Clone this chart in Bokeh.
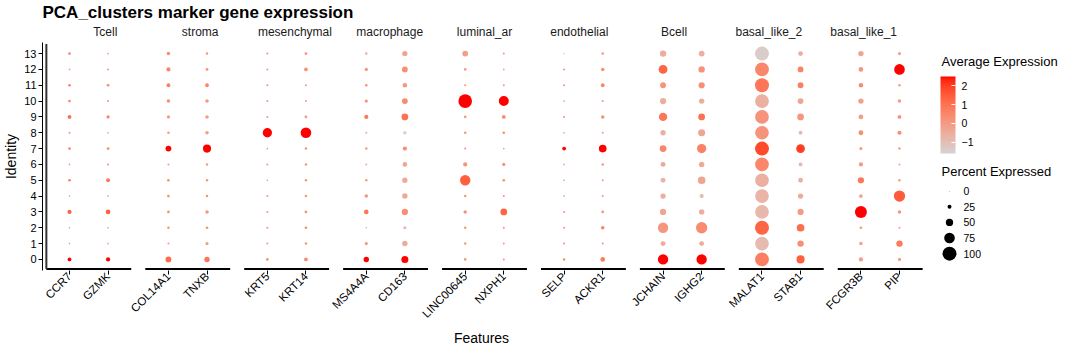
import math
from bokeh.plotting import figure
from bokeh.models import (FactorRange, Range1d, CategoricalAxis, ColumnDataSource,
                          LinearColorMapper, ColorBar, FixedTicker)
from bokeh.layouts import row, column
from bokeh.embed import file_html
from bokeh.resources import INLINE
from bokeh.core.properties import value

# ---------------- data ----------------
title_text = "PCA_clusters marker gene expression"
x_title = "Features"
y_title = "Identity"
clusters = [str(i) for i in range(14)]  # 0 .. 13 (bottom to top)
groups = ["Tcell", "stroma", "mesenchymal", "macrophage", "luminal_ar",
          "endothelial", "Bcell", "basal_like_2", "basal_like_1"]
group_genes = [["CCR7", "GZMK"], ["COL14A1", "TNXB"], ["KRT5", "KRT14"],
               ["MS4A4A", "CD163"], ["LINC00645", "NXPH1"], ["SELP", "ACKR1"],
               ["JCHAIN", "IGHG2"], ["MALAT1", "STAB1"], ["FCGR3B", "PIP"]]

# percent expressed, clusters 0..13
ccr7_pct = [24, 8, 8, 27, 8, 16, 8, 16, 11, 24, 16, 16, 8, 16]
gzmk_pct = [27, 8, 8, 30, 8, 24, 11, 16, 8, 19, 11, 16, 10, 8]
col14a1_pct = [39, 11, 14, 16, 16, 16, 11, 39, 14, 19, 22, 24, 27, 22]
tnxb_pct = [36, 19, 16, 22, 14, 14, 14, 56, 22, 22, 22, 24, 16, 14]
krt5_pct = [16, 11, 11, 11, 11, 8, 11, 8, 65, 11, 11, 11, 11, 11]
krt14_pct = [24, 14, 16, 16, 14, 14, 14, 14, 75, 16, 11, 11, 24, 16]
ms4a4a_pct = [36, 19, 8, 30, 22, 16, 11, 14, 11, 27, 19, 16, 19, 14]
cd163_pct = [48, 36, 19, 42, 36, 35, 30, 27, 22, 46, 39, 30, 39, 35]
linc00645_pct = [16, 14, 14, 22, 14, 73, 27, 11, 16, 16, 97, 11, 16, 39]
nxph1_pct = [11, 11, 11, 46, 11, 16, 19, 8, 16, 24, 70, 11, 8, 11]
selp_pct = [14, 11, 11, 11, 8, 8, 8, 24, 8, 11, 8, 11, 11, 5]
ackr1_pct = [30, 11, 22, 16, 11, 11, 14, 53, 11, 22, 11, 24, 22, 14]
jchain_pct = [73, 32, 73, 42, 35, 32, 32, 46, 35, 58, 42, 39, 61, 43]
ighg2_pct = [73, 32, 80, 36, 27, 53, 36, 65, 48, 46, 36, 42, 43, 39]
malat1_pct = [99, 98, 100, 98, 98, 98, 98, 100, 98, 98, 99, 100, 99, 100]
stab1_pct = [56, 43, 53, 42, 36, 32, 24, 61, 24, 46, 39, 39, 39, 32]
fcgr3b_pct = [27, 22, 16, 85, 24, 42, 27, 19, 32, 32, 36, 30, 30, 36]
pip_pct = [19, 43, 11, 22, 80, 14, 11, 14, 27, 24, 22, 14, 75, 19]

# average expression (scaled), clusters 0..13
ccr7_avg = [2.5, 0.1, 0.1, 1.3, 0.2, 0.6, 0.1, 0.5, 0.2, 1.1, 0.4, 0.5, 0.1, 0.4]
gzmk_avg = [2.5, 0.1, 0.1, 1.4, 0.1, 0.9, 0.2, 0.4, 0.1, 0.6, 0.2, 0.4, 0.2, 0.1]
col14a1_avg = [1.2, 0.0, 0.2, 0.2, 0.2, 0.2, 0.0, 2.5, 0.0, 0.1, 0.3, 0.7, 0.5, 0.3]
tnxb_avg = [0.9, 0.0, 0.2, 0.1, 0.2, 0.1, 0.0, 2.5, -0.1, 0.0, 0.1, 0.6, 0.3, 0.1]
krt5_avg = [0.3, 0.1, 0.2, 0.1, 0.1, 0.1, 0.1, 0.1, 2.5, 0.1, 0.1, 0.1, 0.1, 0.2]
krt14_avg = [0.4, 0.1, 0.3, 0.2, 0.1, 0.1, 0.1, 0.2, 2.5, 0.1, 0.0, 0.0, 0.2, 0.2]
ms4a4a_avg = [2.5, 0.1, -0.3, 0.9, 0.2, -0.1, -0.4, 0.1, -0.5, 0.8, 0.3, 0.2, 0.3, -0.5]
cd163_avg = [2.5, -0.5, -0.8, 0.3, -0.4, -0.4, -0.2, 0.3, -1.6, 1.0, 0.4, 0.1, 0.3, -0.2]
linc00645_avg = [0.1, 0.0, 0.1, 0.1, 0.1, 1.4, 0.2, 0.1, 0.0, 0.0, 2.5, 0.1, 0.0, -0.1]
nxph1_avg = [0.1, 0.0, 0.1, 1.3, 0.1, 0.2, 0.3, 0.0, 0.2, 0.4, 2.5, 0.0, 0.0, 0.0]
selp_avg = [0.4, 0.2, 0.2, 0.2, 0.0, 0.1, 0.0, 2.5, 0.0, 0.3, 0.0, 0.3, 0.2, -0.3]
ackr1_avg = [0.8, 0.1, 0.6, 0.2, 0.1, 0.1, 0.1, 2.5, 0.0, 0.3, 0.1, 0.5, 0.3, 0.1]
jchain_avg = [2.5, -0.4, 0.1, -0.3, -0.5, -0.7, -0.4, 0.5, -0.6, 0.9, -0.5, 0.2, 1.3, -0.5]
ighg2_avg = [2.5, -0.5, 0.4, -0.5, -0.9, -0.3, -0.4, 0.6, -0.3, 1.0, -0.5, 0.3, 0.2, -0.6]
malat1_avg = [0.7, -0.9, 1.3, -0.8, -0.7, -0.6, 0.5, 1.8, 0.2, 0.2, -0.6, 0.9, 0.5, -1.4]
stab1_avg = [1.4, 0.3, 1.1, 0.0, -0.5, -0.6, -0.8, 2.0, -0.8, 0.1, -0.3, 0.7, 0.6, -0.6]
fcgr3b_avg = [-0.1, -0.2, 0.1, 2.5, -0.3, 0.9, 0.0, 0.0, 0.3, -0.1, -0.2, 0.4, 0.2, -0.3]
pip_avg = [0.0, 0.8, -0.2, 0.1, 1.5, -0.1, -0.2, 0.0, 0.3, 0.2, 0.0, -0.1, 2.5, -0.2]

pct_by_gene = {
    "CCR7": ccr7_pct, "GZMK": gzmk_pct, "COL14A1": col14a1_pct, "TNXB": tnxb_pct,
    "KRT5": krt5_pct, "KRT14": krt14_pct, "MS4A4A": ms4a4a_pct, "CD163": cd163_pct,
    "LINC00645": linc00645_pct, "NXPH1": nxph1_pct, "SELP": selp_pct, "ACKR1": ackr1_pct,
    "JCHAIN": jchain_pct, "IGHG2": ighg2_pct, "MALAT1": malat1_pct, "STAB1": stab1_pct,
    "FCGR3B": fcgr3b_pct, "PIP": pip_pct}
avg_by_gene = {
    "CCR7": ccr7_avg, "GZMK": gzmk_avg, "COL14A1": col14a1_avg, "TNXB": tnxb_avg,
    "KRT5": krt5_avg, "KRT14": krt14_avg, "MS4A4A": ms4a4a_avg, "CD163": cd163_avg,
    "LINC00645": linc00645_avg, "NXPH1": nxph1_avg, "SELP": selp_avg, "ACKR1": ackr1_avg,
    "JCHAIN": jchain_avg, "IGHG2": ighg2_avg, "MALAT1": malat1_avg, "STAB1": stab1_avg,
    "FCGR3B": fcgr3b_avg, "PIP": pip_avg}

legend_pct = [0, 25, 50, 75, 100]
colorbar_ticks = [-1, 0, 1, 2]

FONT = "Liberation Sans"

# ---------------- colour scale (Lab interpolation like ggplot2) ----------------
def _lin(c):
    c = c / 255.0
    return c / 12.92 if c <= 0.04045 else ((c + 0.055) / 1.055) ** 2.4

def _delin(c):
    c = 12.92 * c if c <= 0.0031308 else 1.055 * max(c, 0) ** (1 / 2.4) - 0.055
    return max(0, min(255, round(c * 255)))

WHITE = (0.95047, 1.0, 1.08883)

def hex2lab(h):
    r, g, b = [_lin(int(h[i:i + 2], 16)) for i in (1, 3, 5)]
    x = 0.4124 * r + 0.3576 * g + 0.1805 * b
    y = 0.2126 * r + 0.7152 * g + 0.0722 * b
    z = 0.0193 * r + 0.1192 * g + 0.9505 * b
    def f(t):
        return t ** (1 / 3) if t > 216 / 24389 else (24389 / 27 * t + 16) / 116
    fx, fy, fz = f(x / WHITE[0]), f(y / WHITE[1]), f(z / WHITE[2])
    return (116 * fy - 16, 500 * (fx - fy), 200 * (fy - fz))

def lab2hex(L, a, b):
    fy = (L + 16) / 116
    fx = fy + a / 500
    fz = fy - b / 200
    def finv(t):
        return t ** 3 if t ** 3 > 216 / 24389 else (116 * t - 16) / (24389 / 27)
    x, y, z = finv(fx) * WHITE[0], finv(fy) * WHITE[1], finv(fz) * WHITE[2]
    r = 3.2406 * x - 1.5372 * y - 0.4986 * z
    g = -0.9689 * x + 1.8758 * y + 0.0415 * z
    bb = 0.0557 * x - 0.2040 * y + 1.0570 * z
    return "#%02x%02x%02x" % (_delin(r), _delin(g), _delin(bb))

lo_lab, hi_lab = hex2lab("#D3D3D3"), hex2lab("#FF0000")
palette = []
for i in range(256):
    t = i / 255
    palette.append(lab2hex(*[lo_lab[k] + t * (hi_lab[k] - lo_lab[k]) for k in range(3)]))

all_avg = [v for g in avg_by_gene.values() for v in g]
mapper = LinearColorMapper(palette=palette, low=min(all_avg), high=max(all_avg))

def dot_size(p):
    return 0.6 + 13.4 * p / 100.0

# ---------------- table ----------------
xs, ys, pcts, avgs, sizes = [], [], [], [], []
for g, gl in zip(groups, group_genes):
    for gene in gl:
        for i, c in enumerate(clusters):
            xs.append((g, gene))
            ys.append(c)
            pcts.append(pct_by_gene[gene][i])
            avgs.append(avg_by_gene[gene][i])
            sizes.append(dot_size(pct_by_gene[gene][i]))
src = ColumnDataSource(dict(x=xs, y=ys, pct=pcts, avg=avgs, size=sizes))

# ---------------- main figure ----------------
TOP, BOTTOM, H = 40, 58, 328
MAIN_W, LEFT = 926, 36
factors = [(g, gene) for g, gl in zip(groups, group_genes) for gene in gl]
GP = 0.564
x_range = FactorRange(factors=factors, group_padding=GP, factor_padding=0,
                      range_padding=0.2, range_padding_units="absolute")
y_range = FactorRange(factors=clusters, range_padding=0.2, range_padding_units="absolute")

p = figure(width=MAIN_W, height=H, x_range=x_range, y_range=y_range,
           output_backend="svg", toolbar_location=None,
           min_border_left=LEFT, min_border_right=0, min_border_top=TOP,
           min_border_bottom=BOTTOM, title=title_text)
p.outline_line_color = None
p.grid.visible = False
p.background_fill_color = "white"

p.title.text_font = FONT
p.title.text_font_size = "17px"
p.title.text_font_style = "bold"
p.title.text_color = "black"
p.title.align = "left"
p.title.offset = 0
p.title.standoff = 0

xa = p.below[0]
ya = p.left[0]

# strip range: one factor per facet, centred on each facet of the main range
p.extra_x_ranges = {"strip": FactorRange(factors=groups, factor_padding=1.0 + GP,
                                         range_padding=1.2, range_padding_units="absolute")}

strip_axis = CategoricalAxis(x_range_name="strip")
strip_axis.axis_line_color = None
strip_axis.major_tick_line_color = None
strip_axis.major_label_standoff = -2
strip_axis.major_label_orientation = "horizontal"
strip_axis.major_label_text_font = FONT
strip_axis.major_label_text_font_size = "12px"
strip_axis.major_label_text_color = "#1a1a1a"
p.add_layout(strip_axis, "above")

xa.axis_line_color = None
xa.major_tick_out = 4
xa.major_tick_in = 0
xa.major_tick_line_color = "black"
xa.major_label_orientation = math.pi / 4
xa.major_label_standoff = 0
xa.major_label_text_font = FONT
xa.major_label_text_font_size = "11.5px"
xa.major_label_text_color = "black"
xa.group_text_font_size = "0px"
xa.group_text_color = None
xa.separator_line_color = None

ya.axis_line_color = "black"
ya.axis_line_width = 1
ya.major_tick_out = 4
ya.major_tick_in = 0
ya.major_tick_line_color = "black"
ya.major_label_standoff = 2
ya.major_label_text_font = FONT
ya.major_label_text_font_size = "11px"
ya.major_label_text_color = "black"
ya.axis_label = y_title
ya.axis_label_text_font = FONT
ya.axis_label_text_font_size = "14px"
ya.axis_label_text_font_style = "normal"
ya.axis_label_text_color = "black"
ya.axis_label_standoff = 2

# panel axis lines (one per facet), at the bottom edge of the panel
bottom = [clusters[0], -0.6]
top = [clusters[-1], 0.6]
seg = ColumnDataSource(dict(
    x0=[[g, gl[0], -0.6] for g, gl in zip(groups, group_genes)],
    x1=[[g, gl[-1], 0.6] for g, gl in zip(groups, group_genes)],
    y0=[bottom] * len(groups), y1=[bottom] * len(groups)))
p.segment(x0="x0", x1="x1", y0="y0", y1="y1",
          line_color="black", line_width=2, source=seg)
# y axis line along the left edge of the first panel
left_edge = [groups[0], group_genes[0][0], -0.6]
p.segment(x0=[left_edge], x1=[left_edge], y0=[bottom], y1=[top],
          line_color="#333333", line_width=2)

p.scatter(x="x", y="y", size="size", source=src,
          fill_color={"field": "avg", "transform": mapper}, line_color=None)

# ---------------- legend figure ----------------
# same vertical borders as the main figure, data units = canvas pixels
LW = 138
lg = figure(width=LW, height=H, x_range=Range1d(0, LW), y_range=Range1d(H - BOTTOM, TOP),
            output_backend="svg", toolbar_location=None,
            min_border_left=0, min_border_right=0, min_border_top=TOP,
            min_border_bottom=BOTTOM, x_axis_location=None, y_axis_location=None)
lg.outline_line_color = None
lg.grid.visible = False

lg.text(x=[15], y=[59], text=["Average Expression"], text_baseline="middle",
        text_font=value(FONT), text_font_size="13px", text_color="black")
lg.text(x=[15], y=[170], text=["Percent Expressed"], text_baseline="middle",
        text_font=value(FONT), text_font_size="13px", text_color="black")

ky = [190 + 15.75 * i for i in range(len(legend_pct))]
lg.scatter(x=[23] * len(legend_pct), y=ky, size=[dot_size(v) for v in legend_pct],
           fill_color="black", line_color=None)
lg.text(x=[37] * len(legend_pct), y=ky, text=[str(v) for v in legend_pct],
        text_baseline="middle", text_font=value(FONT), text_font_size="10.5px",
        text_color="black")

CB_TOP, CB_H = 72, 77
cb = ColorBar(color_mapper=mapper, width=15, height=CB_H,
              location=(14, (H - BOTTOM) - CB_TOP - CB_H - 4),
              padding=0, ticker=FixedTicker(ticks=colorbar_ticks),
              major_label_text_font=FONT, major_label_text_font_size="10.5px",
              major_label_text_color="black", label_standoff=6,
              major_tick_line_color="white", major_tick_in=4, major_tick_out=0,
              bar_line_color=None, border_line_color=None,
              background_fill_color=None)
lg.add_layout(cb, "center")

# ---------------- footer with the x-axis title ----------------
FW, FH = MAIN_W + LW, 16
ft = figure(width=FW, height=FH, x_range=Range1d(0, FW), y_range=Range1d(FH, 0),
            output_backend="svg", toolbar_location=None, min_border=0,
            x_axis_location=None, y_axis_location=None)
ft.outline_line_color = None
ft.grid.visible = False
ft.text(x=[LEFT + (MAIN_W - LEFT) / 2], y=[9], text=[x_title], text_align="center",
        text_baseline="middle", text_font=value(FONT), text_font_size="14px",
        text_color="black")

layout = column(row(p, lg), ft)
open("out.html", "w").write(file_html(layout, INLINE))
